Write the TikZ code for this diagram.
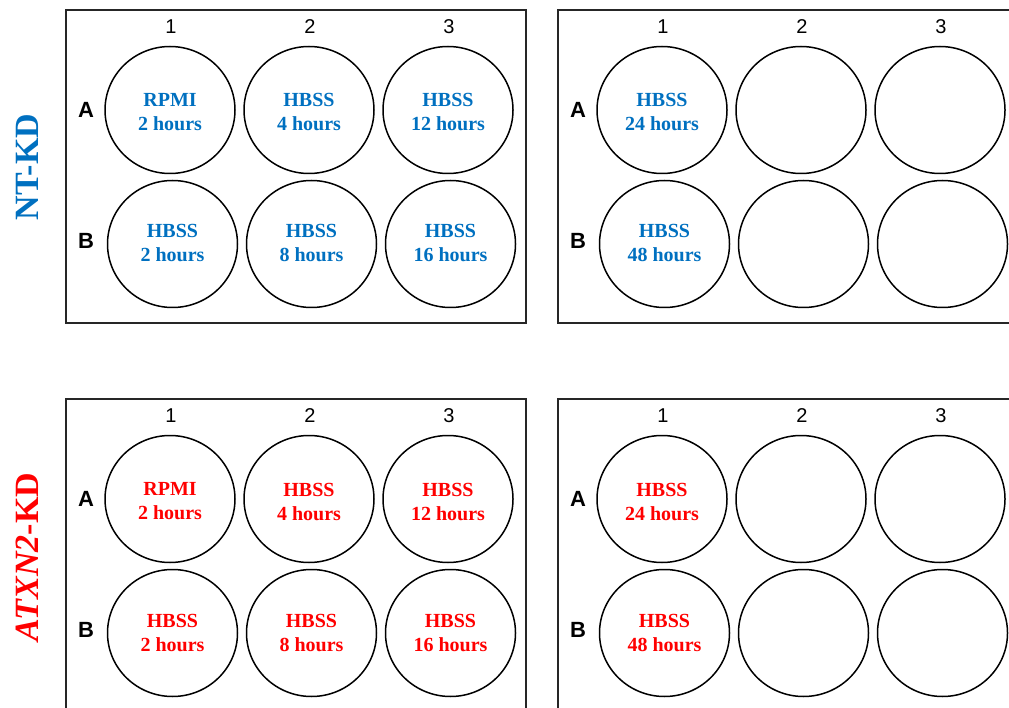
\documentclass[tikz,border=0pt]{standalone}
\usepackage{fontspec}
\usetikzlibrary{shapes.geometric}
\setmainfont{Liberation Serif}
\newfontfamily\arialfont{Liberation Sans}
\definecolor{ntblue}{RGB}{0,112,192}
\definecolor{kdred}{RGB}{255,0,0}
\begin{document}
\begin{tikzpicture}[x=1pt,y=-1pt,
  well/.style={ellipse,draw=black,line width=1.5pt,minimum width=130pt,minimum height=127pt,inner sep=0pt},
  welltext/.style={align=center,inner sep=0pt,font=\fontsize{20}{24}\selectfont\bfseries},
  plate/.style={draw=black!85,line width=1.6pt},
  collab/.style={inner sep=0pt,font=\arialfont\fontsize{20}{22}\selectfont},
  rowlab/.style={inner sep=0pt,font=\arialfont\bfseries\fontsize{22}{24}\selectfont},
  side/.style={rotate=90,inner sep=0pt,font=\fontsize{34}{38}\selectfont\bfseries}]
\useasboundingbox (0,0) rectangle (1009,708);
\clip (0,0) rectangle (1009,708);
\foreach \px/\py/\pw/\pn in {66/10/460/tl, 558/10/470/tr, 66/399/460/bl, 558/399/470/br} {
  \draw[plate] (\px,\py) rectangle ++(\pw,313);
  \foreach \c/\dx in {1/104,2/243,3/382} {
    \node[collab] (\pn-c\c) at (\px+\dx+1,\py+17) {\c};
    \node[well] (\pn-A\c) at (\px+\dx,\py+100) {};
    \node[well] (\pn-B\c) at (\px+\dx+2.5,\py+234) {};
  }
  \node[rowlab] (\pn-rA) at (\px+20,\py+100) {A};
  \node[rowlab] (\pn-rB) at (\px+20,\py+231) {B};
}
\tikzset{atext/.style={welltext,yshift=-2.5pt},btext/.style={welltext,yshift=0.5pt}}
% NT-KD texts
\node[atext,ntblue] (t-tlA1) at (tl-A1.center) {RPMI\\2 hours};
\node[atext,ntblue] (t-tlA2) at (tl-A2.center) {HBSS\\4 hours};
\node[atext,ntblue] (t-tlA3) at (tl-A3.center) {HBSS\\12 hours};
\node[btext,ntblue] (t-tlB1) at (tl-B1.center) {HBSS\\2 hours};
\node[btext,ntblue] (t-tlB2) at (tl-B2.center) {HBSS\\8 hours};
\node[btext,ntblue] (t-tlB3) at (tl-B3.center) {HBSS\\16 hours};
\node[atext,ntblue] (t-trA1) at (tr-A1.center) {HBSS\\24 hours};
\node[btext,ntblue] (t-trB1) at (tr-B1.center) {HBSS\\48 hours};
% ATXN2-KD texts
\node[atext,kdred] (t-blA1) at (bl-A1.center) {RPMI\\2 hours};
\node[atext,kdred] (t-blA2) at (bl-A2.center) {HBSS\\4 hours};
\node[atext,kdred] (t-blA3) at (bl-A3.center) {HBSS\\12 hours};
\node[btext,kdred] (t-blB1) at (bl-B1.center) {HBSS\\2 hours};
\node[btext,kdred] (t-blB2) at (bl-B2.center) {HBSS\\8 hours};
\node[btext,kdred] (t-blB3) at (bl-B3.center) {HBSS\\16 hours};
\node[atext,kdred] (t-brA1) at (br-A1.center) {HBSS\\24 hours};
\node[btext,kdred] (t-brB1) at (br-B1.center) {HBSS\\48 hours};
% side labels
\node[side,ntblue] (sideNT) at (27,167) {NT-KD};
\node[side,kdred] (sideKD) at (27,557) {\textit{ATXN2}-KD};
\end{tikzpicture}
\end{document}
